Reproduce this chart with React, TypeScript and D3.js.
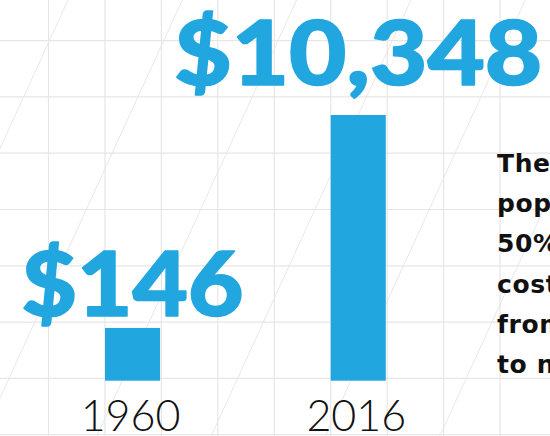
import React from "react";
import * as d3 from "d3";

const years = ["1960", "2016"];
const values = [146, 10348];
const valueLabels = ["$146", "$10,348"];
const noteLines = ["The average", "population's", "50% increase in", "costs per person", "from 1960", "to now"];

const W = 550;
const H = 436;
const BLUE = "#22A6DF";
const labelGap = [12, 30];
const labelWidth = [224, 370];

export default function App() {
  const x = d3
    .scaleBand<string>()
    .domain(years)
    .range([105, 385.8])
    .paddingInner(0.756)
    .paddingOuter(0);
  const y = d3.scaleLog().domain([50.8, 10348]).range([380.7, 115]);
  const base = y(50.8);

  const vLines = d3.range(-1, 10).map((k) => 48.5 + 56.45 * k);
  const hLines = d3.range(0, 8).map((k) => 40.6 + 56.3 * k);
  const diag = d3.range(-1, 7).map((k) => 68 + 114.3 * k);
  const slope = 0.458;

  return (
    <svg
      width={W}
      height={H}
      style={{ position: "absolute", left: 0, top: 0, background: "#fff" }}
    >
      <g stroke="#e6e6e6" strokeWidth={1.2}>
        {vLines.map((v, i) => (
          <line key={"v" + i} x1={v} x2={v} y1={0} y2={H} />
        ))}
        {hLines.map((h, i) => (
          <line key={"h" + i} x1={0} x2={W} y1={h} y2={h} />
        ))}
      </g>
      <g stroke="#e8e8e8" strokeWidth={1}>
        {diag.map((d, i) => (
          <line key={"d" + i} x1={d} y1={0} x2={d - slope * H} y2={H} />
        ))}
      </g>
      {years.map((yr, i) => (
        <rect
          key={yr}
          x={x(yr)}
          y={y(values[i])}
          width={x.bandwidth()}
          height={base - y(values[i])}
          fill={BLUE}
        />
      ))}
      {years.map((yr, i) => (
        <text
          key={"l" + yr}
          x={(x(yr) as number) + x.bandwidth() / 2}
          y={y(values[i]) - labelGap[i]}
          textAnchor="middle"
          fill={BLUE}
          stroke={BLUE}
          strokeWidth={1.6}
          strokeLinejoin="round"
          fontFamily="Lato"
          fontWeight={900}
          fontSize={90}
          textLength={labelWidth[i] - 2}
          lengthAdjust="spacingAndGlyphs"
        >
          {valueLabels[i]}
        </text>
      ))}
      {years.map((yr) => (
        <text
          key={"y" + yr}
          x={(x(yr) as number) + x.bandwidth() / 2 - 2}
          y={431}
          textAnchor="middle"
          fill="#111"
          fontFamily="Lato"
          fontWeight={300}
          fontSize={43}
        >
          {yr}
        </text>
      ))}
      <g
        fontFamily="DejaVu Sans"
        fontWeight={700}
        fontSize={25}
        letterSpacing={0.6}
        fill="#111"
      >
        {noteLines.map((t, i) => (
          <text key={"n" + i} x={497} y={172 + 40.2 * i}>
            {t}
          </text>
        ))}
      </g>
    </svg>
  );
}
